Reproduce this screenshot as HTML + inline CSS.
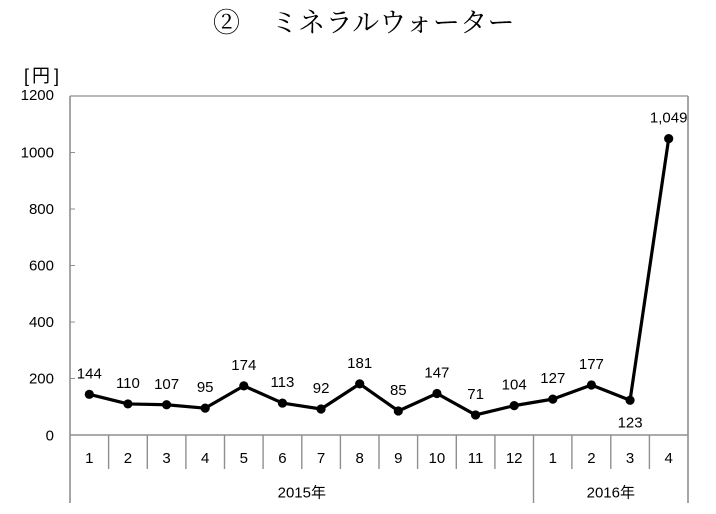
<!DOCTYPE html>
<html><head><meta charset="utf-8"><style>
html,body{margin:0;padding:0;background:#fff;}
svg{display:block;}
</style></head><body>
<svg width="716" height="514" viewBox="0 0 716 514" xmlns="http://www.w3.org/2000/svg">
<rect width="716" height="514" fill="#fff"/>
<!-- title -->
<text x="213" y="32" font-family="'Noto Serif CJK SC','Noto Serif CJK JP',serif" font-size="27" fill="#000">②</text>
<text x="271" y="32" font-family="'Noto Serif CJK SC','Noto Serif CJK JP',serif" font-size="27" letter-spacing="0.3" fill="#000">ミネラルウォーター</text>
<g font-family="'Liberation Sans','Noto Sans CJK JP',sans-serif" font-size="18" fill="#000">
<text x="24" y="82">[</text>
<text x="32" y="82">円</text>
<text x="54" y="82">]</text>
</g>
<!-- plot border -->
<g stroke="#8f8f8f" fill="none">
<line x1="70" y1="96" x2="688" y2="96" stroke-width="1.3"/>
<line x1="688" y1="96" x2="688" y2="503" stroke-width="1.6"/>
<line x1="70" y1="96" x2="70" y2="503" stroke-width="1.6"/>
<line x1="70" y1="435" x2="688" y2="435" stroke-width="1.6"/>
<line x1="533.5" y1="435" x2="533.5" y2="503" stroke-width="1.4"/>
<!-- y ticks -->
<line x1="70" y1="96" x2="75" y2="96"/>
<line x1="70" y1="152.5" x2="75" y2="152.5"/>
<line x1="70" y1="209" x2="75" y2="209"/>
<line x1="70" y1="265.5" x2="75" y2="265.5"/>
<line x1="70" y1="322" x2="75" y2="322"/>
<line x1="70" y1="378.5" x2="75" y2="378.5"/>
<!-- category ticks -->
<g stroke-width="1.4">
<line x1="108.6" y1="435" x2="108.6" y2="469"/>
<line x1="147.3" y1="435" x2="147.3" y2="469"/>
<line x1="185.9" y1="435" x2="185.9" y2="469"/>
<line x1="224.5" y1="435" x2="224.5" y2="469"/>
<line x1="263.1" y1="435" x2="263.1" y2="469"/>
<line x1="301.8" y1="435" x2="301.8" y2="469"/>
<line x1="340.4" y1="435" x2="340.4" y2="469"/>
<line x1="379.0" y1="435" x2="379.0" y2="469"/>
<line x1="417.6" y1="435" x2="417.6" y2="469"/>
<line x1="456.3" y1="435" x2="456.3" y2="469"/>
<line x1="494.9" y1="435" x2="494.9" y2="469"/>
<line x1="571.9" y1="435" x2="571.9" y2="469"/>
<line x1="610.8" y1="435" x2="610.8" y2="469"/>
<line x1="649.4" y1="435" x2="649.4" y2="469"/>
</g>
</g>
<!-- y labels -->
<g font-family="'Liberation Sans',sans-serif" font-size="15" fill="#000" text-anchor="end">
<text x="54" y="100">1200</text>
<text x="54" y="157.5">1000</text>
<text x="54" y="214">800</text>
<text x="54" y="270.5">600</text>
<text x="54" y="327">400</text>
<text x="54" y="383.5">200</text>
<text x="54" y="440.5">0</text>
</g>
<!-- category labels -->
<g font-family="'Liberation Sans',sans-serif" font-size="15" fill="#000" text-anchor="middle">
<text x="89.3" y="463">1</text>
<text x="127.9" y="463">2</text>
<text x="166.6" y="463">3</text>
<text x="205.2" y="463">4</text>
<text x="243.8" y="463">5</text>
<text x="282.4" y="463">6</text>
<text x="321.1" y="463">7</text>
<text x="359.7" y="463">8</text>
<text x="398.3" y="463">9</text>
<text x="436.9" y="463">10</text>
<text x="475.6" y="463">11</text>
<text x="514.2" y="463">12</text>
<text x="552.8" y="463">1</text>
<text x="591.4" y="463">2</text>
<text x="630.1" y="463">3</text>
<text x="668.7" y="463">4</text>
</g>
<g font-family="'Liberation Sans','Noto Sans CJK JP',sans-serif" font-size="15" fill="#000" text-anchor="middle">
<text x="301.8" y="497.5">2015年</text>
<text x="610.8" y="497.5">2016年</text>
</g>
<!-- series -->
<polyline fill="none" stroke="#000" stroke-width="3.2" stroke-linejoin="round" points="89.31,394.32 127.94,403.92 166.56,404.77 205.19,408.16 243.81,385.84 282.44,403.08 321.06,409.01 359.69,383.87 398.31,410.99 436.94,393.47 475.56,414.94 514.19,405.62 552.81,399.12 591.44,385.0 630.06,400.25 668.69,138.66"/>
<g fill="#000">
<circle cx="89.31" cy="394.32" r="4.6"/>
<circle cx="127.94" cy="403.92" r="4.6"/>
<circle cx="166.56" cy="404.77" r="4.6"/>
<circle cx="205.19" cy="408.16" r="4.6"/>
<circle cx="243.81" cy="385.84" r="4.6"/>
<circle cx="282.44" cy="403.08" r="4.6"/>
<circle cx="321.06" cy="409.01" r="4.6"/>
<circle cx="359.69" cy="383.87" r="4.6"/>
<circle cx="398.31" cy="410.99" r="4.6"/>
<circle cx="436.94" cy="393.47" r="4.6"/>
<circle cx="475.56" cy="414.94" r="4.6"/>
<circle cx="514.19" cy="405.62" r="4.6"/>
<circle cx="552.81" cy="399.12" r="4.6"/>
<circle cx="591.44" cy="385.0" r="4.6"/>
<circle cx="630.06" cy="400.25" r="4.6"/>
<circle cx="668.69" cy="138.66" r="4.6"/>
</g>
<!-- data labels -->
<g font-family="'Liberation Sans',sans-serif" font-size="15" fill="#000" text-anchor="middle">
<text x="89.3" y="378.3">144</text>
<text x="127.9" y="387.9">110</text>
<text x="166.6" y="388.8">107</text>
<text x="205.2" y="392.2">95</text>
<text x="243.8" y="369.8">174</text>
<text x="282.4" y="387.1">113</text>
<text x="321.1" y="393">92</text>
<text x="359.7" y="367.9">181</text>
<text x="398.3" y="395">85</text>
<text x="436.9" y="377.5">147</text>
<text x="475.6" y="398.9">71</text>
<text x="514.2" y="389.6">104</text>
<text x="552.8" y="383.1">127</text>
<text x="591.4" y="369">177</text>
<text x="630.1" y="427.5">123</text>
<text x="668.7" y="122.7">1,049</text>
</g>
</svg>
</body></html>
